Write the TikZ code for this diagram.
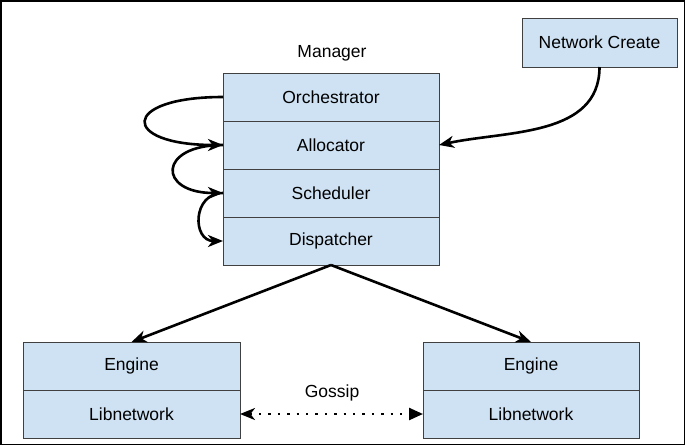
\documentclass[tikz,border=0pt]{standalone}
\usepackage{fontspec}
\setmainfont{Liberation Sans}
\usetikzlibrary{arrows.meta}
\usetikzlibrary{positioning}
\definecolor{boxblue}{RGB}{207,226,243}
\tikzset{
        cell/.style={draw=black!75, fill=boxblue, line width=0.8pt, minimum width=216pt, minimum height=48pt, inner sep=0pt, outer sep=0pt},
        link/.style={black, line width=2.6pt, -{Stealth[length=15pt,width=12pt,inset=4.5pt]}}
}

\begin{document}
\begin{tikzpicture}[x=1pt, y=-1pt, font=\fontsize{17.5}{20}\selectfont]
        \useasboundingbox (0,0) rectangle (685,445);
        \draw[black, line width=1.5pt] (0.75,0.75) rectangle (684.25,444.25);

        \node (mgr) at (332,53) {Manager};
        \node[cell] (orch) at (331,97) {Orchestrator};
        \node[cell, below=0pt of orch] (alloc) {Allocator};
        \node[cell, below=0pt of alloc] (sched) {Scheduler};
        \node[cell, below=0pt of sched] (disp) {Dispatcher};

        \node[cell, minimum width=155pt, minimum height=49pt] (net) at (599.5,42.5) {Network Create};

        \node[cell, minimum width=217pt] (eng1) at (131.5,366) {Engine};
        \node[cell, minimum width=217pt, below=0pt of eng1] (lib1) {Libnetwork};
        \node[cell] (eng2) at (531,366) {Engine};
        \node[cell, below=0pt of eng2] (lib2) {Libnetwork};
        \node (gossip) at (332,393) {Gossip};

        \draw[link] (orch.west) to[out=180, in=180, looseness=5.5] (alloc.west);
        \draw[link] (alloc.west) to[out=180, in=180, looseness=3.5] (sched.west);
        \draw[link] (sched.west) to[out=180, in=180, looseness=1.65] (disp.west);
        \draw[link] (net.south) to[out=-90, in=12] (alloc.east);

        \draw[link] (disp.south) -- (eng1.north);
        \draw[link] (disp.south) -- (eng2.north);

        \draw[black, line width=2.4pt, dash pattern=on 2.4pt off 7pt, {Stealth[length=15pt,width=12pt,inset=4.5pt]}-{Triangle[length=14pt,width=12pt]}] (lib1.east) -- (lib2.west);
\end{tikzpicture}
\end{document}
